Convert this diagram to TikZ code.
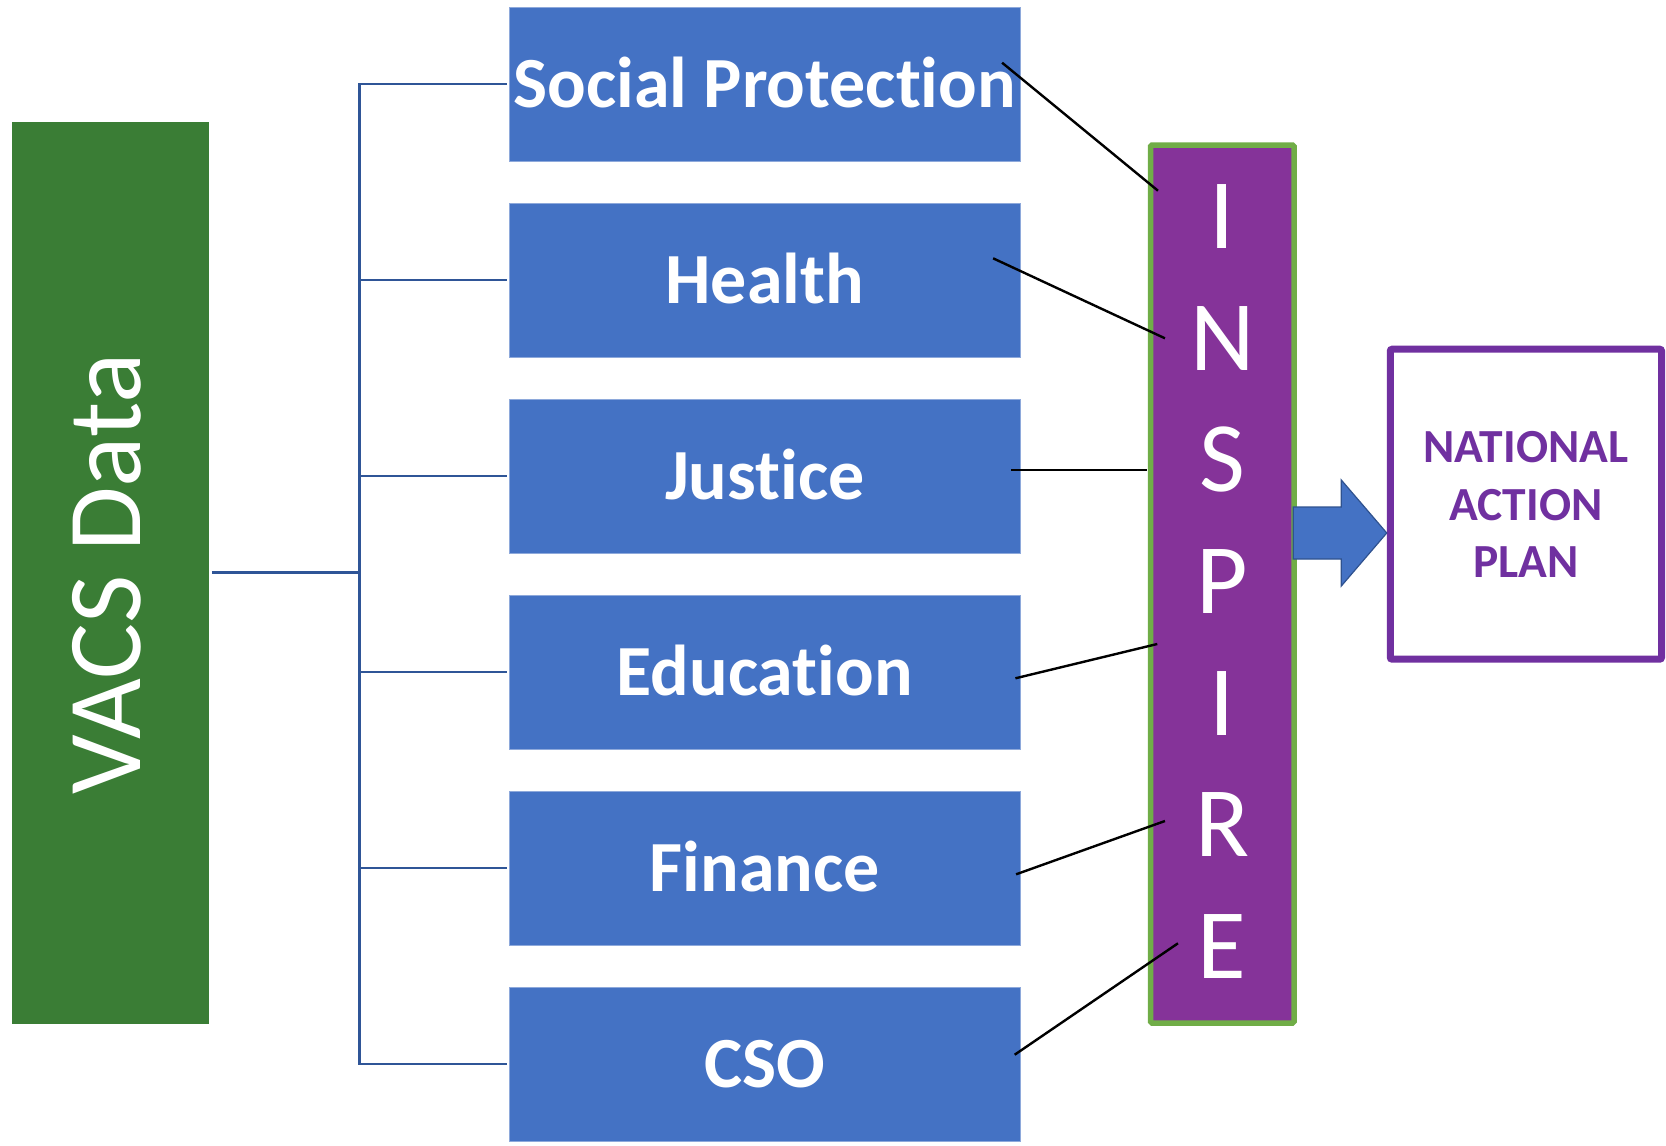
\documentclass[tikz,border=0pt]{standalone}
\usepackage{fontspec}
\setmainfont{Carlito}[Ligatures=NoCommon]
\usetikzlibrary{calc}

\definecolor{vacsgreen}{HTML}{3A7D35}
\definecolor{secblue}{HTML}{4472C4}
\definecolor{secedge}{HTML}{8EA9DB}
\definecolor{linkblue}{HTML}{2F5597}
\definecolor{inspurple}{HTML}{853399}
\definecolor{insgreen}{HTML}{70AD47}
\definecolor{napviolet}{HTML}{7030A0}
\definecolor{arrowedge}{HTML}{2F528F}

\begin{document}
\begin{tikzpicture}[x=1pt,y=-1pt,
  sector/.style={fill=secblue, draw=secedge, line width=0.8pt,
    minimum width=511pt, minimum height=153.7pt, inner sep=0pt,
    text=white, font=\bfseries\fontsize{72}{86}\selectfont,
    text height=46.4pt, text depth=0pt},
  bracket/.style={draw=linkblue, line width=2.6pt},
  link/.style={draw=black, line width=2.4pt},
]
\useasboundingbox (0,0) rectangle (1666,1146);

% data source column
\node[fill=vacsgreen, minimum width=196.7pt, minimum height=901.5pt,
      inner sep=0pt] (vacs) at (110.35,572.75) {};
\node[rotate=90, anchor=base, inner sep=0pt, text=white,
      font=\fontsize{105}{126}\selectfont] (vacstext) at (140.5,574) {VACS Data};

% sector boxes
\foreach \name/\txt [count=\i from 0] in
  {sp/Social Protection, health/Health, justice/Justice,
   edu/Education, fin/Finance, cso/CSO}
  \node[sector] (\name) at (764.8,84.15+196*\i) {\txt};

% bracket joining the data source to the sectors
\coordinate (hub) at (359.3,572.75);
\draw[bracket, line width=3pt] ([xshift=3pt]vacs.east) -- (hub);
\draw[bracket] ([xshift=-2pt]sp.west) -- (hub |- sp) -- (hub |- cso)
               -- ([xshift=-2pt]cso.west);
\foreach \n in {health,justice,edu,fin}
  \draw[bracket] (hub |- \n) -- ([xshift=-2pt]\n.west);

% INSPIRE column
\node[draw=insgreen, fill=inspurple, line width=5.5pt, rounded corners=1.5pt,
      minimum width=143.5pt, minimum height=878pt, inner sep=0pt]
      (inspire) at (1222.25,584) {};
\node[anchor=north, align=center, inner sep=0pt, text=white,
      font=\fontsize{99.7}{121.67}\selectfont]
      (inspiretext) at (1222.25,184.3) {I\\N\\S\\P\\I\\R\\E};

% links from sectors into INSPIRE
\foreach \n/\sx/\sy/\ex/\ey in
  {sp/-18.6/-21.45/10.2/-393.3,
   health/-27.6/-21.85/17.2/-245.7,
   justice/-9.6/-6.15/-1.2/-114,
   edu/-5.3/6.15/9.5/60,
   fin/-4.6/6.15/17.2/237,
   cso/-6/-9.45/30.2/359.3}
{
  \coordinate (\n-out) at ($(\n.east)+(\sx,\sy)$);
  \coordinate (\n-in) at ($(inspire.west)+(\ex,\ey)$);
  \draw[link] (\n-out) -- (\n-in);
}

% national action plan
\node[draw=napviolet, line width=7pt, rounded corners=2pt,
      minimum width=271.3pt, minimum height=310pt, inner sep=0pt]
      (nap) at (1525.9,504.2) {};
\node[anchor=north, align=center, inner sep=0pt, text=napviolet,
      font=\bfseries\fontsize{47.5}{57.5}\selectfont]
      (naptext) at (1526,431.5) {NATIONAL\\ACTION\\PLAN};

% block arrow from INSPIRE to the plan
\draw[fill=secblue, draw=arrowedge, line width=1.2pt, line join=miter]
  (1293.3,507) -- (1341.3,507) -- (1341.3,480) -- (nap.west |- 0,533)
  -- (1341.3,586) -- (1341.3,559) -- (1293.3,559) -- cycle;
\end{tikzpicture}
\end{document}
